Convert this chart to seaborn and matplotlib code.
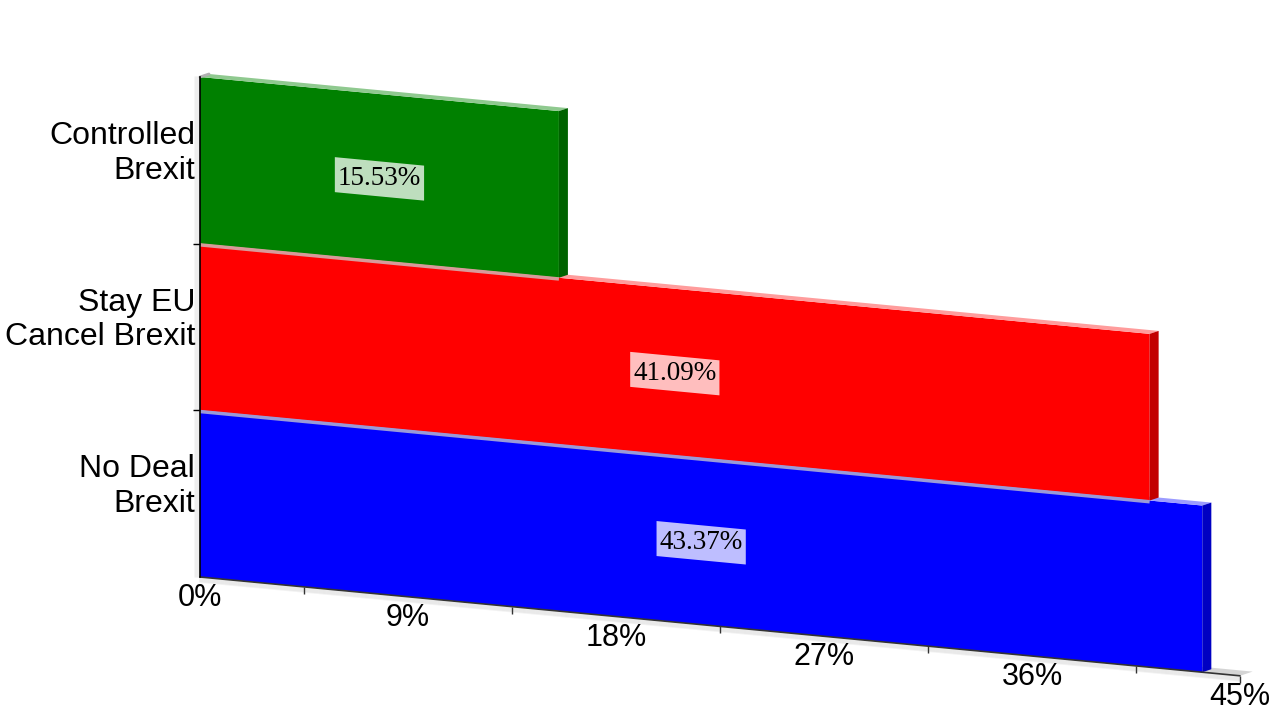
import numpy as np
import matplotlib.pyplot as plt
import seaborn as sns
from matplotlib.transforms import Affine2D, ScaledTranslation
from matplotlib.patches import Polygon

sns.set_style('white')
plt.rcParams['font.family'] = ['Liberation Sans', 'DejaVu Sans']
plt.rcParams['text.color'] = 'black'

# data
categories = ['Controlled\nBrexit', 'Stay EU\nCancel Brexit', 'No Deal\nBrexit']
values = [15.53, 41.09, 43.37]
tick_values = [0, 9, 18, 27, 36, 45]

# colours: front face, top face, side face, seam
front_colors = ['#008000', '#ff0000', '#0000ff']
top_colors = ['#8fc98f', '#ff9c9c', '#9c9cff']
side_colors = ['#006200', '#c20000', '#0000c2']
seam_colors = ['#8fb08f', '#d89a9a', '#9a9ad8']

fig = plt.figure(figsize=(12.8, 7.2), dpi=100)
ax = fig.add_axes([200 / 1280, 143 / 720, 1040 / 1280, 500 / 720])

sns.barplot(x=values, y=categories, hue=categories, palette=front_colors,
            legend=False, orient='h', width=1.0, saturation=1, ax=ax)
ax.set_xlim(0, 45)
ax.set_ylim(2.5, -0.5)
ax.set_xticks([])
ax.set_yticks([])
ax.set_xlabel('')
ax.set_ylabel('')
for side in ['top', 'right', 'bottom']:
    ax.spines[side].set_visible(False)
ax.spines['left'].set_color('black')
ax.spines['left'].set_linewidth(1.2)
ax.spines['left'].set_zorder(15)

# fake 3d: shear everything so the value axis runs downhill
slope = 0.095                     # pixel drop per pixel along x
s = slope * 1040 / 500
shear = (ax.transData + ax.transAxes.inverted()
         + Affine2D(np.array([[1, 0, 0], [-s, 1, 0], [0, 0, 1]]))
         + ax.transAxes)

px_x = 1040 / 45
px_y = 500 / 3
dx = 9 / px_x
dy = -(3 + slope * 9) / px_y

for p in ax.patches:
    i = int(round(p.get_y() + p.get_height() / 2))
    p.set_transform(shear)
    p.set_clip_on(False)
    p.set_linewidth(0)
    p.set_zorder(10 - 3 * i)

# floor strip + shadow under value axis and beside the wall
floor = Polygon([(0, 2.5), (45, 2.5), (45 + 1.4 * dx, 2.5 + 1.4 * dy), (1.4 * dx, 2.5 + 1.4 * dy)],
                closed=True, fc='#d4d4d4', lw=0, transform=shear, zorder=1, clip_on=False)
ax.add_patch(floor)
for j in range(1, 6):
    ax.plot([0, 45], [2.5, 2.5], color='gray', alpha=0.10, lw=1.2, clip_on=False, zorder=2,
            transform=shear + ScaledTranslation(0, -j / 100, fig.dpi_scale_trans))
    ax.plot([0, 0], [-0.5, 2.5], color='gray', alpha=0.08, lw=1.2, clip_on=False, zorder=2,
            transform=ax.transData + ScaledTranslation(-j / 100, 0, fig.dpi_scale_trans))

for i, v in enumerate(values):
    yt, yb = i - 0.5, i + 0.5
    z = 10 - 3 * i
    top = Polygon([(0, yt), (v, yt), (v + dx, yt + dy), (dx, yt + dy)], closed=True,
                  fc=top_colors[i], lw=0, transform=shear, zorder=z, clip_on=False)
    side = Polygon([(v, yt), (v + dx, yt + dy), (v + dx, yb + dy), (v, yb)], closed=True,
                   fc=side_colors[i], lw=0, transform=shear, zorder=z, clip_on=False)
    ax.add_patch(top)
    ax.add_patch(side)
    if i > 0:
        # light seam where the lower bar meets the one above
        ax.plot([0, values[i - 1]], [yt, yt], color=seam_colors[i], lw=2.5, solid_capstyle='butt',
                transform=shear + ScaledTranslation(0, -0.012, fig.dpi_scale_trans),
                clip_on=False, zorder=11)

labels = []
for i, v in enumerate(values):
    t = ax.text(v / 2, i, f'{v:.2f}%', transform=shear + ScaledTranslation(0, -0.015, fig.dpi_scale_trans),
                ha='center', va='center',
                family=['Liberation Serif', 'DejaVu Serif'], fontsize=19.5, zorder=21)
    labels.append(t)

# sheared boxes behind the value labels
fig.canvas.draw()
for i, t in enumerate(labels):
    bb = t.get_window_extent()
    half_w = (bb.width / 2 + 3) / px_x
    half_h = (bb.height / 2 + 5) / px_y
    xc = values[i] / 2
    yc = i + 1.5 / px_y
    box = Polygon([(xc - half_w, yc - half_h), (xc + half_w, yc - half_h),
                   (xc + half_w, yc + half_h), (xc - half_w, yc + half_h)], closed=True,
                  fc=(1, 1, 1, 0.75), lw=0, transform=shear, zorder=20, clip_on=False)
    ax.add_patch(box)

# wall cap
ax.plot([0, dx], [-0.5, -0.5 + dy], color='#b0b0b0', lw=2, transform=shear, clip_on=False, zorder=12)

# value axis line, ticks and labels
ax.plot([0, 45], [2.5, 2.5], color='#333333', lw=1.2, transform=shear, clip_on=False, zorder=12)
minor = [(a + b) / 2 for a, b in zip(tick_values[:-1], tick_values[1:])] + [tick_values[-1]]
ax.plot(minor, [2.5] * len(minor), ls='none', marker=3, ms=5, mew=1, color='#333333',
        transform=shear, clip_on=False, zorder=12)
for t in tick_values:
    ax.text(t, 2.5, f'{t}%', transform=shear + ScaledTranslation(0, -0.21, fig.dpi_scale_trans),
            ha='center', va='center', fontsize=22)

# category axis ticks and labels
ax.plot([0, 0], [0.5, 1.5], ls='none', marker=0, ms=5, mew=1, color='black', clip_on=False, zorder=12)
for i, c in enumerate(categories):
    ax.text(0, i, c, transform=ax.transData + ScaledTranslation(-0.05, 0.07, fig.dpi_scale_trans),
            ha='right', va='center', fontsize=23)

fig.savefig('out.png', dpi=100)
